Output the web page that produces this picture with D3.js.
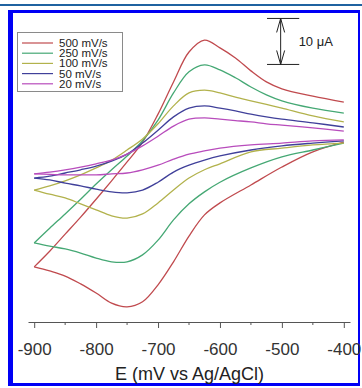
<!DOCTYPE html>
<html>
<head>
<meta charset="utf-8">
<script src="https://cdn.jsdelivr.net/npm/d3@7"></script>
<style>
  html, body { margin: 0; padding: 0; background: #fff; }
  svg { display: block; font-family: "Liberation Sans", Arial, Helvetica, sans-serif; }
</style>
</head>
<body>
<svg id="chart" width="362" height="388"></svg>
<script>
// Potential grids (mV vs Ag/AgCl)
const forwardE = [-900, -875, -850, -825, -800, -775, -750, -725, -700, -675, -650, -625, -600, -575, -550, -525, -500, -450, -400];
const reverseE = [-400, -450, -500, -550, -600, -625, -650, -675, -700, -725, -750, -775, -800, -825, -850, -875, -900];

// Scan rates
const scanRates = ["500 mV/s", "250 mV/s", "100 mV/s", "50 mV/s", "20 mV/s"];
const colors = ["#c04a4e", "#45a874", "#b2b24c", "#40409a", "#b84cbc"];

// Currents (uA), forward (anodic) branch
const fwd500 = [-25.4, -22.0, -18.3, -14.6, -10.7, -6.7, -2.6, 1.7, 7.8, 14.8, 21.3, 23.9, 22.2, 20.0, 17.2, 14.8, 13.3, 11.7, 10.4];
const fwd250 = [-20.2, -17.0, -13.9, -10.7, -7.4, -4.3, -1.3, 2.0, 6.5, 12.4, 17.0, 18.5, 17.4, 15.7, 13.7, 12.0, 10.7, 9.1, 8.0];
const fwd100 = [-8.7, -7.8, -6.7, -5.4, -3.9, -2.2, 0.0, 2.4, 5.7, 9.6, 12.4, 13.0, 12.4, 11.5, 10.7, 9.9, 9.1, 7.4, 6.1];
const fwd50 = [-6.1, -5.7, -5.0, -4.3, -3.5, -2.4, -0.9, 1.5, 4.3, 7.2, 9.1, 9.6, 9.1, 8.5, 7.8, 7.2, 6.7, 5.9, 5.0];
const fwd20 = [-5.2, -4.8, -4.3, -3.7, -3.0, -2.2, -0.9, 0.9, 3.0, 5.2, 6.7, 7.0, 6.7, 6.4, 6.1, 5.7, 5.4, 4.8, 4.1];

// Currents (uA), reverse (cathodic) branch
const rev500 = [1.7, -0.4, -3.7, -7.6, -11.5, -14.1, -18.7, -24.3, -29.3, -33.0, -34.1, -33.3, -31.1, -29.1, -27.4, -26.3, -25.4];
const rev250 = [1.5, 0.0, -1.5, -3.9, -7.0, -9.1, -11.7, -15.2, -19.6, -22.8, -24.3, -24.3, -23.5, -22.4, -21.5, -20.9, -20.2];
const rev100 = [1.5, 1.1, 0.4, -0.4, -3.0, -4.3, -6.1, -8.7, -11.5, -13.9, -14.8, -14.3, -13.0, -11.7, -10.4, -9.6, -8.7];
const rev50 = [2.0, 1.5, 0.9, 0.0, -1.3, -2.2, -3.3, -4.8, -7.0, -8.7, -9.3, -9.1, -8.5, -7.8, -7.2, -6.5, -6.1];
const rev20 = [2.2, 2.0, 1.5, 1.1, 0.4, -0.2, -0.9, -2.0, -3.3, -4.3, -5.0, -5.2, -5.4, -5.4, -5.4, -5.3, -5.2];

const xTicks = [-900, -800, -700, -600, -500, -400];
const xMinorTicks = [-850, -750, -650, -550, -450];
const xLabel = "E (mV vs Ag/AgCl)";
const scaleBarLabel = "10 \u03bcA";

const forwardSets = [fwd500, fwd250, fwd100, fwd50, fwd20];
const reverseSets = [rev500, rev250, rev100, rev50, rev20];

const svg = d3.select("#chart");

// Page frame
svg.append("rect").attr("x", 0).attr("y", 4).attr("width", 362).attr("height", 2).attr("fill", "#1f62a0");
svg.append("rect").attr("x", 8).attr("y", 10).attr("width", 352).attr("height", 376).attr("fill", "#0000f5");
svg.append("rect").attr("x", 13).attr("y", 13).attr("width", 345).attr("height", 370).attr("fill", "#fff");

// Scales
const x = d3.scaleLinear().domain([-910, -390]).range([28, 350]);
const y = d3.scaleLinear().domain([-30, 20]).range([288, 58]);
const axisY = 322;

// Curves
const line = d3.line()
  .x(d => x(d[0]))
  .y(d => y(d[1]))
  .curve(d3.curveCatmullRom.alpha(0.5));

scanRates.forEach((name, i) => {
  const g = svg.append("g").attr("class", "cv");
  g.append("path")
    .datum(forwardE.map((e, j) => [e, forwardSets[i][j]]))
    .attr("d", line)
    .attr("fill", "none")
    .attr("stroke", colors[i])
    .attr("stroke-width", 1.3);
  g.append("path")
    .datum(reverseE.map((e, j) => [e, reverseSets[i][j]]))
    .attr("d", line)
    .attr("fill", "none")
    .attr("stroke", colors[i])
    .attr("stroke-width", 1.3);
});

// X axis
const xAxis = svg.append("g")
  .attr("transform", `translate(0,${axisY})`)
  .call(d3.axisBottom(x).tickValues(xTicks).tickSize(6).tickSizeOuter(0).tickFormat(d => String(d)));
xAxis.select(".domain").attr("stroke", "#555");
xAxis.selectAll(".tick line").attr("stroke", "#555");
xAxis.selectAll(".tick text")
  .attr("y", 33)
  .attr("dy", null)
  .attr("fill", "#333")
  .style("font-size", "17px")
  .style("font-family", "'Liberation Sans', Arial, sans-serif");

svg.append("g")
  .attr("transform", `translate(0,${axisY})`)
  .selectAll("line")
  .data(xMinorTicks)
  .join("line")
  .attr("x1", d => x(d)).attr("x2", d => x(d))
  .attr("y1", 0).attr("y2", 3)
  .attr("stroke", "#555");

svg.append("text")
  .attr("x", 189.5)
  .attr("y", 380)
  .attr("text-anchor", "middle")
  .attr("fill", "#222")
  .style("font-size", "18px")
  .text(xLabel);

// Legend
const legend = svg.append("g");
legend.append("rect")
  .attr("x", 17.5).attr("y", 32.5)
  .attr("width", 105).attr("height", 59)
  .attr("fill", "#fff")
  .attr("stroke", "#8a8a8a");
scanRates.forEach((name, i) => {
  const ly = 43 + i * 10.2;
  legend.append("line")
    .attr("x1", 22).attr("x2", 53)
    .attr("y1", ly).attr("y2", ly)
    .attr("stroke", colors[i]).attr("stroke-width", 1.2);
  legend.append("text")
    .attr("x", 59).attr("y", ly + 4)
    .attr("fill", "#222")
    .style("font-size", "11.5px")
    .text(name);
});

// Scale bar (10 uA)
const barE = -502;
const barLow = 18.6, barHigh = 28.6;
const bx = x(barE), by1 = y(barHigh), by2 = y(barLow);
const sb = svg.append("g").attr("stroke", "#222").attr("stroke-width", 1).attr("fill", "none");
sb.append("line").attr("x1", x(barE - 22)).attr("x2", x(barE + 30)).attr("y1", by1).attr("y2", by1);
sb.append("line").attr("x1", x(barE - 22)).attr("x2", x(barE + 30)).attr("y1", by2).attr("y2", by2);
sb.append("line").attr("x1", bx).attr("x2", bx).attr("y1", by1).attr("y2", by2);
sb.append("path").attr("d", `M${bx - 4},${by1 + 14}L${bx},${by1}L${bx + 4},${by1 + 14}`);
sb.append("path").attr("d", `M${bx - 4},${by2 - 14}L${bx},${by2}L${bx + 4},${by2 - 14}`);
svg.append("text")
  .attr("x", bx + 18)
  .attr("y", (by1 + by2) / 2 + 5)
  .attr("fill", "#222")
  .style("font-size", "13px")
  .text(scaleBarLabel);
</script>
</body>
</html>
